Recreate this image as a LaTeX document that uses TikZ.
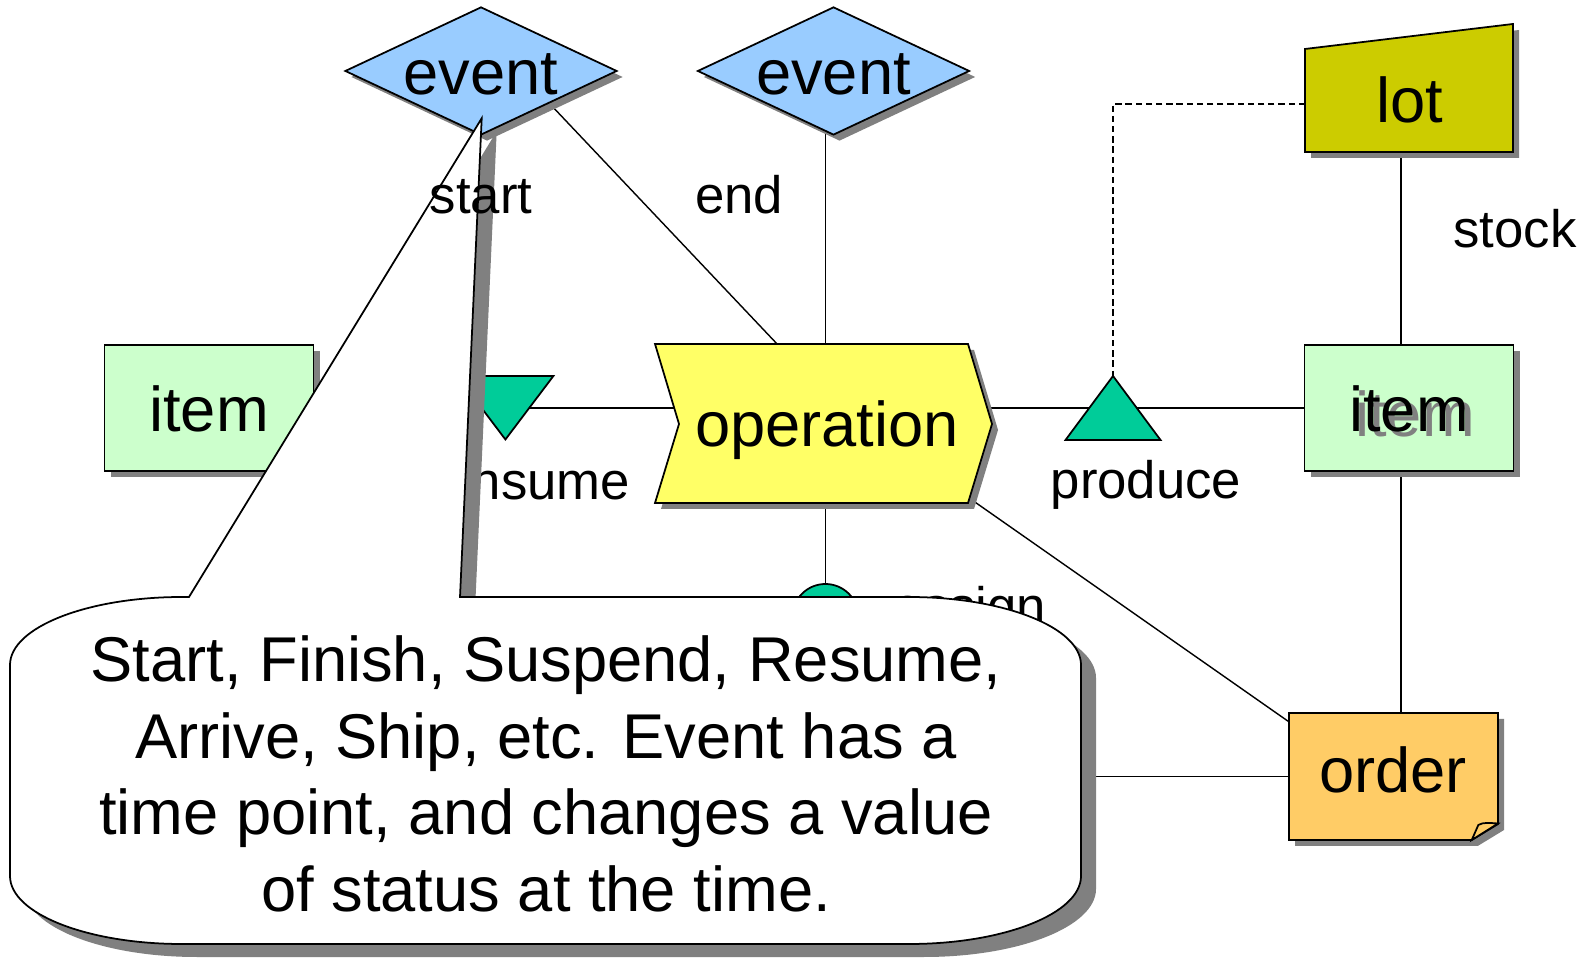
\documentclass[tikz,border=0pt]{standalone}
\usepackage{fontspec}
\setmainfont{Liberation Sans}
\usetikzlibrary{shapes.geometric,shadows,calc}
\pgfdeclarelayer{edges}
\pgfsetlayers{edges,main}
\definecolor{evblue}{HTML}{99CCFF}
\definecolor{lotolive}{HTML}{CCCC00}
\definecolor{itemgreen}{HTML}{CCFFCC}
\definecolor{opyellow}{HTML}{FFFF66}
\definecolor{relgreen}{HTML}{00CC99}
\definecolor{ordorange}{HTML}{FFCC66}
\definecolor{shgray}{HTML}{808080}
\newcommand{\calloutpath}{(1.89,3.62) -- (4.817,8.407) -- (4.60,3.62) -- (9.09,3.62)
  arc[start angle=90,end angle=0,x radius=1.72,y radius=0.68] -- (10.81,0.83)
  arc[start angle=0,end angle=-90,x radius=1.72,y radius=0.68] -- (1.82,0.15)
  arc[start angle=270,end angle=180,x radius=1.72,y radius=0.68] -- (0.10,2.94)
  arc[start angle=180,end angle=90,x radius=1.72,y radius=0.68] -- cycle}

\begin{document}
\begin{tikzpicture}[line width=0.5pt,
  shd/.style={drop shadow={shadow xshift=0.06cm,shadow yshift=-0.06cm,opacity=1,fill=shgray}},
  big/.style={font=\fontsize{18}{21.8}\selectfont,inner sep=0pt,text height=0.48cm,text depth=0pt},
  lbl/.style={font=\fontsize{15}{18}\selectfont,inner sep=0pt,anchor=base},
  evshape/.style={diamond,aspect=2.1,draw,fill=evblue,shd,big,minimum width=2.72cm,minimum height=1.28cm},
  itembox/.style={rectangle,draw,fill=itemgreen,shd,big,minimum width=2.09cm,minimum height=1.26cm},
  rel/.style={draw,fill=relgreen}]
\useasboundingbox (0,0) rectangle (15.86,9.59);

\node[itembox] (itemL) at (2.09,5.51) {item};
\node[itembox] (itemR) at (14.09,5.51) {\rlap{\hspace{0.06cm}\raisebox{-0.05cm}{\textcolor{shgray}{item}}}item};

\coordinate (cons) at (5.054,5.51);
\coordinate (prod) at (11.13,5.51);
\draw[rel] ($(cons)+(-0.48,0.32)$) -- ($(cons)+(0.48,0.32)$) -- ($(cons)+(0,-0.315)$) -- cycle;
\draw[rel] ($(prod)+(-0.475,-0.32)$) -- ($(prod)+(0.475,-0.32)$) -- ($(prod)+(0,0.32)$) -- cycle;
\node[rel,circle,minimum size=0.66cm,inner sep=0pt] (assign) at (8.254,3.42) {};

\draw[fill=opyellow,shd] (6.55,6.15) -- coordinate[pos=0.39] (opin) (9.68,6.15) -- (9.92,5.35)
  -- coordinate[pos=0.94] (opout) (9.68,4.56) -- (6.55,4.56) -- (6.79,5.35) -- cycle;
\node[big] (op) at (8.27,5.36) {operation};

\draw[fill=lotolive,shd] (15.13,8.07) -- coordinate[pos=0.538] (lotS) (13.05,8.07)
  -- coordinate[pos=0.466] (lotW) (13.05,9.10) -- (15.13,9.35) -- cycle;
\node[big] (lot) at (14.10,8.60) {lot};

\draw[fill=ordorange,shd] (12.89,1.19) -- coordinate[pos=0.5] (ordW) coordinate[pos=0.93] (ordNW) (12.89,2.46)
  -- coordinate[pos=0.536] (ordN) (14.98,2.46) -- (14.98,1.35) -- (14.717,1.19) -- cycle;
\draw[fill=ordorange] (14.717,1.19) -- (14.783,1.34) .. controls (14.83,1.37) and (14.90,1.36) .. (14.98,1.355) -- cycle;
\node[big] (order) at (13.93,1.90) {order};

\node[evshape] (ev2) at (8.335,8.88) {event};

\node[lbl] (endlbl) at (7.39,7.45) {end};
\node[lbl] (stocklbl) at (15.15,7.11) {stock};
\node[lbl] (producelbl) at (11.46,4.60) {produce};
\node[lbl,anchor=base east] (consumelbl) at (6.31,4.59) {consume};
\node[lbl,anchor=base east] (assignlbl) at (10.47,3.34) {assign};

\fill[shgray,shift={(0.15,-0.13)}] \calloutpath;
\node[evshape] (ev1) at (4.81,8.88) {event};
\draw[fill=white] \calloutpath;
\node[font=\fontsize{18}{21.8}\selectfont,align=center,inner sep=0pt] (note) at (5.46,1.85)
  {Start, Finish, Suspend, Resume,\\Arrive, Ship, etc. Event has a\\time point, and changes a value\\of status at the time.};
\node[lbl] (startlbl) at (4.81,7.45) {start};

\begin{pgfonlayer}{edges}
\draw (ev1.south east) -- (opin);
\draw (assign |- ev2.center) -- (assign);
\draw (itemL) -- (itemR);
\draw[line width=0.4pt,dash pattern=on 1.8pt off 1.1pt] (lotW) -| ($(prod)+(0,0.32)$);
\draw (lotS) -- (lotS |- ordN);
\draw (opout) -- (ordNW);
\draw (ordW) -- ++(-2.3,0);
\end{pgfonlayer}
\end{tikzpicture}
\end{document}
